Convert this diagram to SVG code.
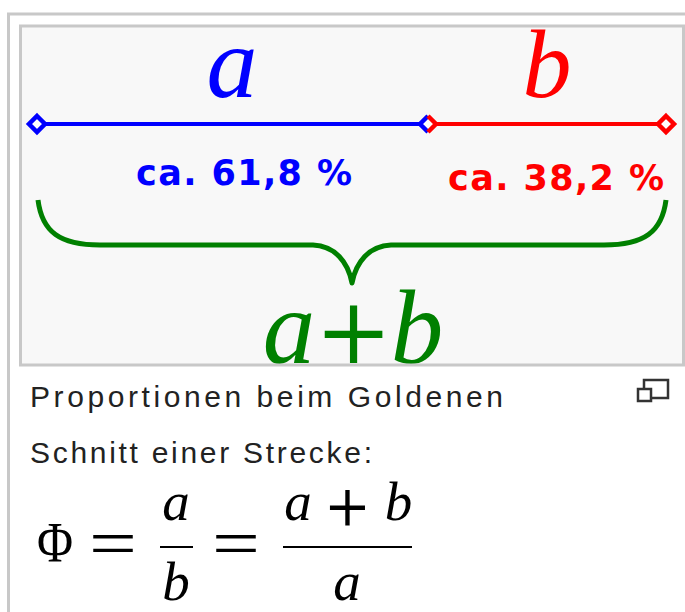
<svg xmlns="http://www.w3.org/2000/svg" width="685" height="612" viewBox="0 0 685 612">
<style>
.it{font-family:"Liberation Serif","Times New Roman",serif;font-style:italic;text-anchor:middle}
.up{font-family:"DejaVu Serif",serif;text-anchor:middle}
.rm{font-family:"Liberation Serif","Times New Roman",serif;text-anchor:middle}
.pct{font-family:"DejaVu Sans",sans-serif;font-weight:bold;font-size:35px;text-anchor:middle}
.cap{font-family:"Liberation Sans",Arial,sans-serif;font-size:30px;fill:#222}
.border{fill:none;stroke:#c8c8c8;stroke-width:3}
.mk{fill:#fff;stroke-width:4.5;stroke-linejoin:miter}
</style>
<rect x="0" y="0" width="685" height="612" fill="#fff"/>
<g id="frame">
<rect x="8.5" y="14" width="700" height="620" fill="#f8f9fa" class="border"/>
<rect x="20.5" y="26" width="663" height="339" fill="#f8f8f8"/>
</g>
<g id="segments">
<line x1="37" y1="124" x2="428" y2="124" stroke="#0000ff" stroke-width="4"/>
<line x1="428" y1="124" x2="666" y2="124" stroke="#ff0000" stroke-width="4"/>
<polygon class="mk" stroke="#0000ff" points="37,116 45,124 37,132 29,124"/>
<polygon class="mk" stroke="#ff0000" points="666,116 674,124 666,132 658,124"/>
<polygon fill="#fff" points="428,116 436,124 428,132 420,124"/>
<polyline class="mk" fill="none" stroke="#0000ff" points="428,116 420,124 428,132"/>
<polyline class="mk" fill="none" stroke="#ff0000" points="428,116 436,124 428,132"/>
</g>
<g id="label-a"><text class="it" x="232" y="97" font-size="102" fill="#0000ff">a</text></g>
<g id="label-b"><text class="it" x="547" y="97" font-size="98" fill="#ff0000">b</text></g>
<g id="pct-a"><text class="pct" x="244" y="185" fill="#0000ff" textLength="216">ca. 61,8 %</text></g>
<g id="pct-b"><text class="pct" x="556" y="190" fill="#ff0000" textLength="216">ca. 38,2 %</text></g>
<g id="brace">
<path d="M38,200 C42,232 60,245 100,245 L313,245 C335,246 348,262 352,283 C356,262 369,246 391,245 L604,245 C644,245 662,232 666,200" fill="none" stroke="#008000" stroke-width="5" stroke-linejoin="round"/>
</g>
<g id="label-ab">
<text class="it" x="289" y="363" font-size="105" fill="#008000">a</text>
<text class="up" x="353.5" y="363" font-size="92" fill="#008000">+</text>
<text class="it" x="417" y="363" font-size="105" fill="#008000">b</text>
</g>
<rect x="20.5" y="26" width="663" height="339" class="border"/>
<g id="caption">
<text class="cap" x="30" y="407" textLength="473">Proportionen beim Goldenen</text>
<text class="cap" x="30" y="463" textLength="342">Schnitt einer Strecke:</text>
</g>
<g id="expand-icon">
<rect x="644" y="380" width="24" height="18" fill="#fff" stroke="#333" stroke-width="2.5"/>
<rect x="638" y="389" width="13" height="12" fill="#fff" stroke="#333" stroke-width="2.5"/>
</g>
<g id="formula" fill="#000">
<text class="rm" transform="translate(55,562) scale(0.85,1)" font-size="58">Φ</text>
<text class="rm" transform="translate(113,566) scale(1.25,1)" font-size="68">=</text>
<text class="it" x="176" y="520" font-size="55">a</text>
<line x1="160" y1="547" x2="193" y2="547" stroke="#000" stroke-width="2"/>
<text class="it" x="176" y="600" font-size="55">b</text>
<text class="rm" transform="translate(236,566) scale(1.25,1)" font-size="68">=</text>
<text class="it" x="298" y="520" font-size="55">a</text>
<text class="up" x="347.5" y="525" font-size="56">+</text>
<text class="it" x="398.5" y="520" font-size="55">b</text>
<line x1="283" y1="547" x2="412" y2="547" stroke="#000" stroke-width="2"/>
<text class="it" x="347" y="600" font-size="55">a</text>
</g>
</svg>
